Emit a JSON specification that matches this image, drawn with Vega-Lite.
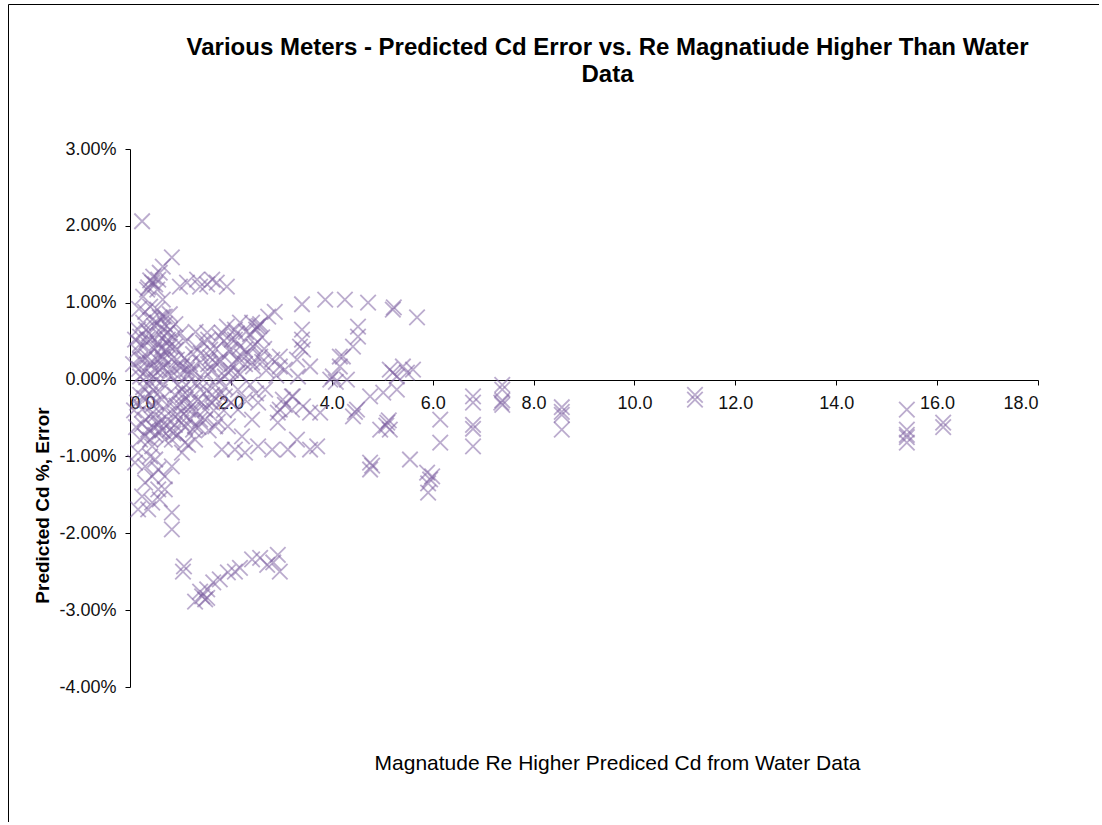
{
  "$schema": "https://vega.github.io/schema/vega-lite/v6.json",
  "autosize": "none",
  "width": 1091,
  "height": 818,
  "padding": {"left": 8, "top": 4, "right": 0, "bottom": 0},
  "background": "white",
  "config": {
    "view": {"stroke": "#000000", "strokeWidth": 1},
    "font": "Liberation Sans"
  },
  "title": {
    "text": ["Various Meters - Predicted Cd Error vs. Re Magnatiude Higher Than Water", "Data"],
    "anchor": "middle",
    "frame": "group",
    "baseline": "top",
    "offset": -34,
    "dx": 54,
    "dy": 49,
    "lineHeight": 27,
    "font": "Liberation Sans",
    "fontSize": 24,
    "fontWeight": "bold",
    "color": "#000000"
  },
  "data": {
    "values": [
      {"re":0.24,"err":2.06},{"re":0.83,"err":1.59},{"re":0.65,"err":1.47},{"re":0.46,"err":1.34},{"re":0.44,"err":1.26},
      {"re":0.40,"err":1.29},{"re":0.50,"err":1.24},{"re":0.36,"err":1.20},{"re":0.34,"err":1.17},{"re":0.26,"err":1.08},
      {"re":0.56,"err":1.30},{"re":0.59,"err":1.39},{"re":0.54,"err":1.17},{"re":1.13,"err":1.26},{"re":1.33,"err":1.30},
      {"re":1.53,"err":1.24},{"re":1.72,"err":1.26},{"re":1.92,"err":1.21},{"re":0.99,"err":1.21},{"re":1.63,"err":1.30},
      {"re":1.39,"err":1.21},
      {"re":2.87,"err":0.88},{"re":3.41,"err":0.98},{"re":3.87,"err":1.04},{"re":4.26,"err":1.04},{"re":4.72,"err":1.00},
      {"re":5.21,"err":0.91},{"re":5.23,"err":0.94},{"re":5.69,"err":0.81},{"re":2.52,"err":0.69},{"re":2.56,"err":0.70},
      {"re":2.50,"err":0.65},{"re":2.58,"err":0.72},{"re":4.52,"err":0.69},{"re":4.52,"err":0.56},{"re":4.42,"err":0.43},
      {"re":4.16,"err":0.30},{"re":4.02,"err":0.04},{"re":3.97,"err":0.00},{"re":4.08,"err":-0.03},{"re":3.41,"err":0.65},
      {"re":3.41,"err":0.52},{"re":3.43,"err":0.39},{"re":2.97,"err":0.30},{"re":2.97,"err":0.17},{"re":5.15,"err":0.13},
      {"re":5.41,"err":0.17},{"re":5.61,"err":0.13},{"re":5.49,"err":0.09},{"re":5.21,"err":0.09},{"re":2.18,"err":0.74},
      {"re":1.92,"err":0.69},{"re":1.78,"err":0.56},{"re":1.53,"err":0.61},{"re":1.45,"err":0.48},{"re":1.59,"err":0.39},
      {"re":1.98,"err":0.39},{"re":2.18,"err":0.43},{"re":2.44,"err":0.43},{"re":2.58,"err":0.30},{"re":2.44,"err":0.17},
      {"re":2.62,"err":0.23},{"re":2.12,"err":0.26},{"re":1.78,"err":0.26},{"re":1.39,"err":0.22},{"re":1.13,"err":0.13},
      {"re":0.93,"err":0.26},{"re":0.79,"err":0.43},{"re":0.65,"err":0.65},{"re":0.65,"err":0.82},{"re":0.54,"err":0.74},
      {"re":0.40,"err":0.95},{"re":0.26,"err":0.74},{"re":0.20,"err":0.56},{"re":0.34,"err":0.52},{"re":0.54,"err":0.48},
      {"re":0.20,"err":0.26},{"re":0.40,"err":0.22},{"re":0.65,"err":0.30},{"re":0.79,"err":0.13},{"re":0.46,"err":0.04},
      {"re":0.20,"err":0.04},{"re":4.22,"err":0.30},{"re":4.16,"err":0.17},{"re":4.30,"err":0.00},{"re":3.37,"err":0.43},
      {"re":3.31,"err":0.26},{"re":3.57,"err":0.17},{"re":5.29,"err":0.04},{"re":2.74,"err":0.82},{"re":2.42,"err":0.74},
      {"re":2.28,"err":0.39},{"re":2.82,"err":0.26},{"re":3.07,"err":0.13},{"re":3.33,"err":0.04},{"re":2.14,"err":0.09},
      {"re":1.88,"err":0.04},{"re":2.02,"err":0.52},{"re":2.08,"err":0.65},{"re":1.82,"err":0.61},{"re":1.55,"err":0.52},
      {"re":1.69,"err":0.22},{"re":1.23,"err":0.09},{"re":1.03,"err":0.17},{"re":0.89,"err":0.43},{"re":0.75,"err":0.61},
      {"re":0.69,"err":0.82},{"re":0.63,"err":0.30},
      {"re":4.50,"err":-0.39},{"re":4.42,"err":-0.48},{"re":4.46,"err":-0.42},{"re":5.10,"err":-0.56},{"re":5.13,"err":-0.53},
      {"re":5.08,"err":-0.60},{"re":5.15,"err":-0.65},{"re":4.96,"err":-0.65},{"re":4.76,"err":-0.22},{"re":5.02,"err":-0.17},
      {"re":5.29,"err":-0.13},{"re":3.43,"err":-0.35},{"re":3.23,"err":-0.22},{"re":3.77,"err":-0.43},{"re":3.57,"err":-0.43},
      {"re":3.31,"err":-0.78},{"re":3.57,"err":-0.91},{"re":3.71,"err":-0.87},{"re":4.76,"err":-1.08},{"re":4.76,"err":-1.17},
      {"re":4.80,"err":-1.12},{"re":5.55,"err":-1.04},{"re":5.89,"err":-1.21},{"re":5.95,"err":-1.30},{"re":5.91,"err":-1.35},
      {"re":5.99,"err":-1.26},{"re":5.91,"err":-1.47},{"re":6.15,"err":-0.52},{"re":6.15,"err":-0.82},{"re":6.80,"err":-0.22},
      {"re":6.80,"err":-0.30},{"re":6.80,"err":-0.59},{"re":6.80,"err":-0.64},{"re":6.80,"err":-0.87},{"re":7.38,"err":-0.07},
      {"re":7.38,"err":-0.13},{"re":7.38,"err":-0.27},{"re":7.38,"err":-0.33},{"re":7.36,"err":-0.30},{"re":8.56,"err":-0.36},
      {"re":8.56,"err":-0.42},{"re":8.56,"err":-0.46},{"re":8.56,"err":-0.65},{"re":11.20,"err":-0.20},{"re":11.20,"err":-0.26},
      {"re":15.40,"err":-0.39},{"re":15.40,"err":-0.65},{"re":15.40,"err":-0.72},{"re":15.40,"err":-0.75},{"re":15.40,"err":-0.82},
      {"re":16.12,"err":-0.56},{"re":16.12,"err":-0.62},
      {"re":0.56,"err":-0.56},{"re":0.89,"err":-0.48},{"re":1.23,"err":-0.39},{"re":0.30,"err":-0.74},{"re":0.44,"err":-0.87},
      {"re":0.16,"err":-0.95},{"re":0.10,"err":-1.08},{"re":0.30,"err":-1.13},{"re":0.44,"err":-1.26},{"re":0.30,"err":-1.34},
      {"re":0.56,"err":-1.17},{"re":0.69,"err":-1.26},{"re":0.83,"err":-1.13},{"re":1.03,"err":-0.95},{"re":1.09,"err":-0.82},
      {"re":0.56,"err":-1.43},{"re":0.24,"err":-1.52},{"re":0.44,"err":-1.60},{"re":0.16,"err":-1.69},{"re":0.83,"err":-1.73},
      {"re":0.83,"err":-1.95},{"re":1.29,"err":-0.61},{"re":1.49,"err":-0.52},{"re":1.69,"err":-0.61},{"re":1.82,"err":-0.91},
      {"re":2.08,"err":-0.91},{"re":2.28,"err":-0.95},{"re":2.54,"err":-0.87},{"re":2.82,"err":-0.91},{"re":3.13,"err":-0.91},
      {"re":2.93,"err":-0.43},{"re":2.97,"err":-0.39},{"re":2.93,"err":-0.56},{"re":2.42,"err":-0.52},{"re":2.54,"err":-0.30},
      {"re":2.14,"err":-0.39},{"re":1.94,"err":-0.61},{"re":2.22,"err":-0.74},{"re":1.63,"err":-0.30},{"re":1.88,"err":-0.22},
      {"re":2.68,"err":-0.13},{"re":3.21,"err":-0.22},{"re":3.21,"err":-0.39},{"re":0.40,"err":-1.00},{"re":0.59,"err":-1.56},
      {"re":0.36,"err":-1.69},{"re":0.69,"err":-1.43},{"re":0.50,"err":-1.04},{"re":3.03,"err":-0.26},{"re":3.07,"err":-0.33},
      {"re":1.05,"err":-2.50},{"re":1.07,"err":-2.43},{"re":1.29,"err":-2.89},{"re":1.43,"err":-2.82},{"re":1.49,"err":-2.86},
      {"re":1.53,"err":-2.73},{"re":1.53,"err":-2.84},{"re":1.65,"err":-2.64},{"re":1.78,"err":-2.60},{"re":1.94,"err":-2.51},
      {"re":2.08,"err":-2.50},{"re":2.18,"err":-2.45},{"re":2.42,"err":-2.34},{"re":2.58,"err":-2.32},{"re":2.72,"err":-2.41},
      {"re":2.84,"err":-2.38},{"re":2.93,"err":-2.28},{"re":2.97,"err":-2.50},{"re":1.39,"err":-2.76},
      {"re":0.16,"err":0.65},{"re":0.20,"err":0.46},{"re":0.24,"err":0.26},{"re":0.30,"err":0.10},{"re":0.36,"err":-0.07},
      {"re":0.40,"err":-0.20},{"re":0.44,"err":-0.33},{"re":0.50,"err":-0.46},{"re":0.56,"err":-0.59},{"re":0.59,"err":-0.68},
      {"re":0.20,"err":-0.20},{"re":0.24,"err":-0.39},{"re":0.30,"err":-0.52},{"re":0.36,"err":-0.65},{"re":0.40,"err":-0.78},
      {"re":0.46,"err":-0.13},{"re":0.52,"err":0.00},{"re":0.59,"err":0.13},{"re":0.65,"err":0.26},{"re":0.71,"err":0.39},
      {"re":0.75,"err":0.52},{"re":0.79,"err":0.65},{"re":0.56,"err":0.46},{"re":0.63,"err":-0.26},{"re":0.69,"err":-0.39},
      {"re":0.75,"err":-0.52},{"re":0.79,"err":-0.65},{"re":0.83,"err":-0.78},{"re":0.89,"err":-0.59},{"re":0.95,"err":-0.46},
      {"re":0.99,"err":-0.33},{"re":1.05,"err":-0.20},{"re":1.11,"err":-0.07},{"re":1.15,"err":0.07},{"re":1.19,"err":0.20},
      {"re":1.25,"err":0.33},{"re":1.31,"err":0.42},{"re":0.89,"err":-0.20},{"re":0.95,"err":-0.07},{"re":0.99,"err":0.07},
      {"re":1.03,"err":-0.13},{"re":1.09,"err":-0.26},{"re":1.15,"err":-0.39},{"re":1.19,"err":-0.52},{"re":1.25,"err":-0.65},
      {"re":1.31,"err":-0.42},{"re":1.35,"err":-0.26},{"re":1.39,"err":-0.13},{"re":1.45,"err":0.00},{"re":1.49,"err":0.10},
      {"re":1.55,"err":0.20},{"re":1.59,"err":0.29},{"re":1.63,"err":-0.20},{"re":1.69,"err":-0.07},{"re":1.74,"err":0.03},
      {"re":0.83,"err":0.26},{"re":0.91,"err":0.39},{"re":0.75,"err":0.07},{"re":0.67,"err":-0.07},{"re":0.59,"err":-0.16},
      {"re":0.54,"err":0.26},{"re":0.48,"err":0.39},{"re":0.40,"err":0.52},{"re":0.32,"err":0.65},{"re":0.44,"err":0.78},
      {"re":0.54,"err":0.91},{"re":0.59,"err":0.81},{"re":0.69,"err":0.72},{"re":0.79,"err":0.85},{"re":0.65,"err":1.04},
      {"re":0.40,"err":0.20},{"re":0.32,"err":0.03},{"re":0.26,"err":-0.10},{"re":0.50,"err":-0.72},{"re":0.69,"err":-0.78},
      {"re":0.95,"err":-0.72},{"re":1.09,"err":-0.62},{"re":1.39,"err":-0.52},{"re":1.49,"err":-0.39},{"re":1.59,"err":-0.29},
      {"re":1.78,"err":-0.20},{"re":1.88,"err":-0.10},{"re":1.94,"err":0.10},{"re":2.02,"err":0.20},{"re":2.18,"err":0.07},
      {"re":2.28,"err":0.20},{"re":2.34,"err":0.33},{"re":2.48,"err":0.46},{"re":2.62,"err":0.55},{"re":2.38,"err":0.59},
      {"re":2.08,"err":0.52},{"re":1.98,"err":0.36},{"re":1.78,"err":0.23},{"re":1.63,"err":0.13},{"re":2.14,"err":-0.13},
      {"re":2.28,"err":-0.26},{"re":2.38,"err":-0.07},{"re":1.29,"err":-0.78},{"re":1.15,"err":-0.85},{"re":0.20,"err":-0.78},
      {"re":0.14,"err":0.38},{"re":0.28,"err":0.44},{"re":0.38,"err":0.60},{"re":0.48,"err":0.70},{"re":0.58,"err":0.58},
      {"re":0.72,"err":0.48},{"re":0.86,"err":0.55},{"re":0.62,"err":0.40},{"re":0.18,"err":0.14},{"re":0.34,"err":0.30},
      {"re":0.50,"err":0.12},{"re":0.66,"err":0.16},{"re":0.82,"err":0.05},{"re":0.96,"err":0.18},{"re":1.08,"err":0.28},
      {"re":1.22,"err":0.14},{"re":0.14,"err":-0.30},{"re":0.28,"err":-0.24},{"re":0.42,"err":-0.45},{"re":0.52,"err":-0.30},
      {"re":0.64,"err":-0.52},{"re":0.78,"err":-0.30},{"re":0.92,"err":-0.34},{"re":1.06,"err":-0.45},{"re":1.18,"err":-0.18},
      {"re":1.30,"err":-0.05},{"re":1.42,"err":-0.30},{"re":1.52,"err":-0.14},{"re":1.66,"err":-0.40},{"re":1.74,"err":-0.55},
      {"re":1.86,"err":-0.40},{"re":2.00,"err":-0.30},{"re":0.24,"err":-0.58},{"re":0.46,"err":-0.62},{"re":0.64,"err":-0.66},
      {"re":0.86,"err":-0.70},{"re":1.02,"err":-0.56},{"re":1.20,"err":-0.30},{"re":1.36,"err":-0.62},{"re":1.56,"err":-0.66},
      {"re":2.00,"err":0.12},{"re":2.22,"err":0.30},{"re":2.42,"err":0.22},{"re":2.66,"err":0.40},{"re":2.30,"err":0.62},
      {"re":2.70,"err":0.12},{"re":2.90,"err":0.05},{"re":2.50,"err":-0.18},{"re":1.40,"err":0.34},{"re":1.70,"err":0.40},
      {"re":1.86,"err":0.50},{"re":2.12,"err":0.60},{"re":1.30,"err":0.62},{"re":1.10,"err":0.50},{"re":1.00,"err":0.60},
      {"re":0.90,"err":0.72},{"re":0.30,"err":0.88},{"re":0.18,"err":0.92},{"re":0.10,"err":0.52},{"re":0.06,"err":0.20},
      {"re":0.08,"err":-0.40},{"re":0.12,"err":-0.62}
    ]
  },
  "mark": {
    "type": "point",
    "shape": "M-1,-1L1,1M-1,1L1,-1",
    "filled": false,
    "color": "#7F62A3",
    "stroke": "#7F62A3",
    "strokeWidth": 1.8,
    "strokeOpacity": 0.75,
    "size": 240
  },
  "encoding": {
    "x": {
      "field": "re",
      "type": "quantitative",
      "scale": {"domain": [0, 18], "range": [122, 1030], "nice": false, "zero": false},
      "axis": {
        "orient": "bottom",
        "offset": -442,
        "values": [0, 2, 4, 6, 8, 10, 12, 14, 16, 18],
        "labelExpr": "format(datum.value, '.1f')",
        "grid": false,
        "domainColor": "#000000",
        "tickColor": "#000000",
        "tickSize": 5,
        "labelPadding": 9,
        "labelFont": "Liberation Sans",
        "labelFontSize": 18,
        "labelColor": "#111111",
        "title": "Magnatude Re Higher Prediced Cd from Water Data",
        "titleFont": "Liberation Sans",
        "titleFontSize": 21,
        "titleFontWeight": "normal",
        "titleColor": "#000000",
        "titleX": 609,
        "titleY": 383,
        "titleAlign": "center",
        "titleBaseline": "middle",
        "titleAnchor": null
      }
    },
    "y": {
      "field": "err",
      "type": "quantitative",
      "scale": {"domain": [-4, 3], "range": [683, 145], "nice": false, "zero": false},
      "axis": {
        "orient": "left",
        "offset": -122,
        "values": [-4, -3, -2, -1, 0, 1, 2, 3],
        "labelExpr": "replace(format(datum.value, '.2f'), '\u2212', '-') + '%'",
        "grid": false,
        "domainColor": "#000000",
        "tickColor": "#000000",
        "tickSize": 5,
        "labelPadding": 9,
        "labelFont": "Liberation Sans",
        "labelFontSize": 18,
        "labelColor": "#111111",
        "title": "Predicted Cd %, Error",
        "titleFont": "Liberation Sans",
        "titleFontSize": 19,
        "titleFontWeight": "bold",
        "titleColor": "#000000",
        "titleX": -88,
        "titleY": 501,
        "titleAngle": -90,
        "titleAlign": "center",
        "titleBaseline": "middle",
        "titleAnchor": null
      }
    }
  }
}
